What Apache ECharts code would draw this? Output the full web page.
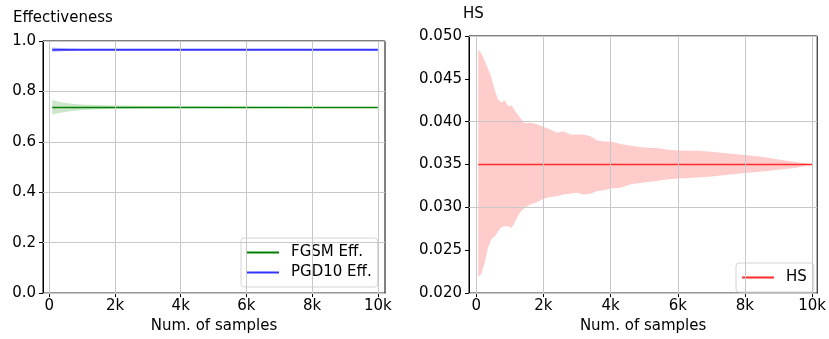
<!DOCTYPE html>
<html>
<head>
<meta charset="utf-8">
<script src="https://cdn.jsdelivr.net/npm/echarts@6/dist/echarts.min.js"></script>
<style>
  html, body { margin: 0; padding: 0; background: #fff; }
  #chart { width: 829px; height: 339px; }
</style>
</head>
<body>
<div id="chart"></div>
<script>
// tick positions
const xTicks = [0, 2000, 4000, 6000, 8000, 10000]
const effTicks = [0, 0.2, 0.4, 0.6, 0.8, 1.0]
const hsTicks = [0.020, 0.025, 0.030, 0.035, 0.040, 0.045, 0.050]

// left panel: effectiveness, mean line + spread band
const fgsmX = [90, 200, 400, 700, 1000, 1500, 2000, 3000, 4000, 5000, 6000, 8000, 10000]
const fgsmUpper = [0.766, 0.762, 0.756, 0.751, 0.748, 0.746, 0.744, 0.742, 0.741, 0.740, 0.739, 0.738, 0.737]
const fgsmLower = [0.708, 0.711, 0.716, 0.722, 0.726, 0.729, 0.731, 0.733, 0.734, 0.735, 0.736, 0.736, 0.736]
const fgsmMean = [0.736, 0.736]

const pgdX = [90, 300, 600, 1000, 1400, 2000, 10000]
const pgdUpper = [0.975, 0.972, 0.970, 0.968, 0.967, 0.966, 0.966]
const pgdLower = [0.955, 0.958, 0.961, 0.963, 0.964, 0.965, 0.965]
const pgdMean = [0.965, 0.965]

// right panel: HS
const hsX = [60, 150, 250, 350, 450, 550, 650, 750, 850, 950, 1050, 1150, 1300, 1450, 1600, 1800,
  2000, 2200, 2400, 2600, 2800, 3000, 3200, 3400, 3600, 3800, 4000, 4300, 4600, 5000, 5400,
  5800, 6200, 6600, 7000, 7500, 8000, 8500, 9000, 9500, 10000]
const hsUpper = [0.0484, 0.0480, 0.0471, 0.0462, 0.0452, 0.0437, 0.0426, 0.0422, 0.0425, 0.0418,
  0.0419, 0.0413, 0.0405, 0.0398, 0.0399, 0.0397, 0.0394, 0.0391, 0.0387, 0.0389, 0.0385, 0.0385,
  0.0385, 0.0383, 0.0378, 0.0377, 0.0377, 0.0374, 0.0372, 0.0370, 0.0369, 0.0367, 0.0366, 0.0366,
  0.0365, 0.0363, 0.0361, 0.0359, 0.0356, 0.0353, 0.0350]
const hsLower = [0.0219, 0.0222, 0.0235, 0.0253, 0.0263, 0.0266, 0.0272, 0.0277, 0.0278, 0.0278,
  0.0276, 0.0283, 0.0294, 0.0300, 0.0303, 0.0306, 0.0310, 0.0312, 0.0313, 0.0315, 0.0316, 0.0317,
  0.0315, 0.0316, 0.0319, 0.0320, 0.0322, 0.0323, 0.0327, 0.0329, 0.0331, 0.0333, 0.0334, 0.0335,
  0.0336, 0.0338, 0.0340, 0.0342, 0.0344, 0.0346, 0.0350]
const hsMean = [0.035, 0.035]

const FONT = 'DejaVu Sans'
const GRID_COLOR = '#c8c8c8'

const ends = (xs, m) => [[xs[0], m[0]], [xs[xs.length - 1], m[1]]]

// filled band between lower and upper, drawn as one polygon through the axes
const band = (idx, xs, up, lo, color) => ({
  type: 'custom', xAxisIndex: idx, yAxisIndex: idx, silent: true, z: 1,
  data: xs.map((x, i) => [x, up[i], lo[i]]),
  encode: {x: 0, y: [1, 2]},
  renderItem: (params, api) => {
    if (params.dataIndex !== 0) return null
    const top = xs.map((x, i) => api.coord([x, up[i]]))
    const bot = xs.map((x, i) => api.coord([x, lo[i]])).reverse()
    return {type: 'polygon', shape: {points: top.concat(bot)}, style: {fill: color}}
  }
})

// grid lines over the bands, under the mean lines (like matplotlib)
const gridLines = (idx, yTicks) => ({
  type: 'line', xAxisIndex: idx, yAxisIndex: idx, data: [], silent: true, z: 2,
  markLine: {
    silent: true, symbol: 'none', animation: false, label: {show: false},
    lineStyle: {color: GRID_COLOR, width: 1, type: 'solid'},
    data: xTicks.map(v => ({xAxis: v})).concat(yTicks.map(v => ({yAxis: v})))
  }
})

const meanLine = (name, idx, xs, m, color, width) => ({
  name: name, type: 'line', xAxisIndex: idx, yAxisIndex: idx, z: 3,
  data: ends(xs, m), symbol: 'none', color: color,
  lineStyle: {color: color, width: width}
})

const xAxisOf = (idx, min, max) => ({
  type: 'value', gridIndex: idx, min: min, max: max,
  name: 'Num. of samples', nameLocation: 'middle', nameGap: 23,
  nameTextStyle: {fontFamily: FONT, fontSize: 15, color: '#000'},
  axisLine: {show: true, onZero: false, lineStyle: {color: '#000', width: 1}},
  axisTick: {show: true, length: 4, customValues: xTicks, lineStyle: {color: '#000'}},
  axisLabel: {
    customValues: xTicks, margin: 6, fontFamily: FONT, fontSize: 15, color: '#000',
    formatter: v => v === 0 ? '0' : (v / 1000) + 'k'
  },
  splitLine: {show: false}
})

const yAxisOf = (idx, min, max, interval, digits) => ({
  type: 'value', gridIndex: idx, min: min, max: max, interval: interval,
  axisLine: {show: true, onZero: false, lineStyle: {color: '#000', width: 1}},
  axisTick: {show: true, length: 4, lineStyle: {color: '#000'}},
  axisLabel: {
    margin: 7, fontFamily: FONT, fontSize: 15, color: '#000',
    formatter: v => v.toFixed(digits)
  },
  splitLine: {show: false}
})

const legendOf = (data, left, top, right) => ({
  data: data, orient: 'vertical', left: left, top: top,
  icon: 'rect', itemWidth: 32, itemHeight: 2, itemGap: 5,
  padding: [7, right, 7, 6],
  backgroundColor: 'rgba(255,255,255,0.8)', borderColor: '#d4d4d4', borderWidth: 1, borderRadius: 3,
  textStyle: {fontFamily: FONT, fontSize: 15, color: '#000', lineHeight: 15, padding: [0, 0, 0, 7]},
  selectedMode: false
})

const chart = echarts.init(document.getElementById('chart'), null, {renderer: 'canvas'})

chart.setOption({
  animation: false,
  backgroundColor: '#fff',
  title: [
    {text: 'Effectiveness', left: 13, top: 11, padding: 0,
      textStyle: {fontFamily: FONT, fontSize: 15, fontWeight: 'normal', color: '#000'}},
    {text: 'HS', left: 463, top: 7, padding: 0,
      textStyle: {fontFamily: FONT, fontSize: 15, fontWeight: 'normal', color: '#000'}}
  ],
  grid: [
    {left: 43, top: 41, width: 342, height: 255, show: true, borderColor: '#000', borderWidth: 1,
      backgroundColor: 'transparent', containLabel: false},
    {left: 469, top: 36, width: 351, height: 263, show: true, borderColor: '#000', borderWidth: 1,
      backgroundColor: 'transparent', containLabel: false}
  ],
  xAxis: [
    xAxisOf(0, -192, 10219),
    xAxisOf(1, -216, 10152)
  ],
  yAxis: [
    yAxisOf(0, 0, 1, 0.2, 1),
    yAxisOf(1, 0.02, 0.05, 0.005, 3)
  ],
  legend: [
    legendOf(['FGSM Eff.', 'PGD10 Eff.'], 241, 238, 6),
    legendOf(['HS'], 736, 263, 7)
  ],
  series: [
    band(0, fgsmX, fgsmUpper, fgsmLower, '#cce6cc'),
    band(0, pgdX, pgdUpper, pgdLower, '#d0d0ff'),
    band(1, hsX, hsUpper, hsLower, '#ffcccc'),
    gridLines(0, effTicks),
    gridLines(1, hsTicks),
    meanLine('FGSM Eff.', 0, fgsmX, fgsmMean, '#008000', 1.5),
    meanLine('PGD10 Eff.', 0, pgdX, pgdMean, '#3333ff', 2),
    meanLine('HS', 1, hsX, hsMean, '#ff2a2a', 1.5)
  ]
})
</script>
</body>
</html>
